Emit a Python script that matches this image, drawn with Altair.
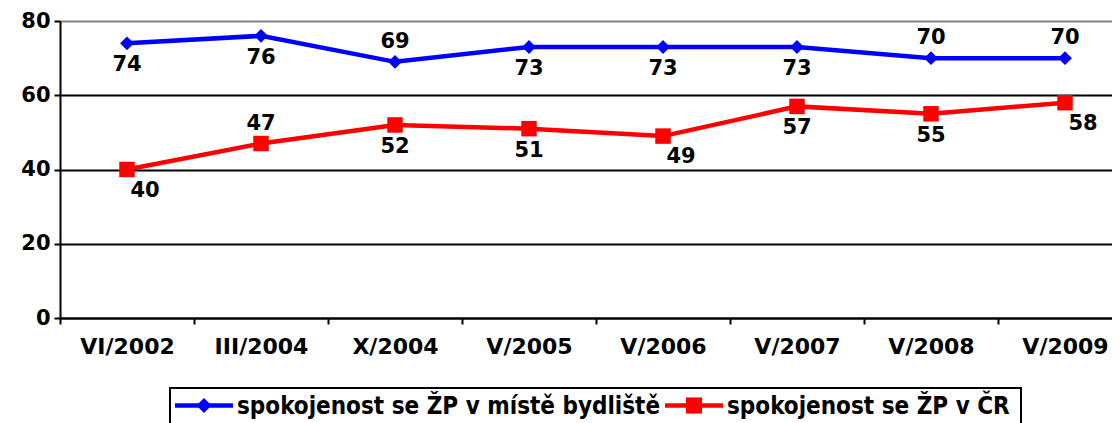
import altair as alt
import pandas as pd

periods = ["VI/2002", "III/2004", "X/2004", "V/2005", "V/2006", "V/2007", "V/2008", "V/2009"]
series_names = ["spokojenost se ŽP v místě bydliště", "spokojenost se ŽP v ČR"]
local_values = [74, 76, 69, 73, 73, 73, 70, 70]
national_values = [40, 47, 52, 51, 49, 57, 55, 58]
local_label_pos = ["below", "below", "above", "below", "below", "below", "above", "above"]
national_label_pos = ["below-right", "above", "below", "below", "below-right", "below", "below", "below-right"]
colors = ["#0000FF", "#FF0000"]
shapes = ["diamond", "square"]
y_ticks = [0, 20, 40, 60, 80]

rows = []
for name, vals, poss in [(series_names[0], local_values, local_label_pos),
                         (series_names[1], national_values, national_label_pos)]:
    for p, v, lp in zip(periods, vals, poss):
        rows.append({"period": p, "series": name, "value": v, "pos": lp})
df = pd.DataFrame(rows)
legend_df = pd.DataFrame({"series": series_names, "color": colors, "shape": shapes})

FONT = "DejaVu Sans"
LEGEND_FONT = "DejaVu Sans Condensed"

x_enc = alt.X(
    "period:N", sort=periods,
    scale=alt.Scale(range=[0, 1072], paddingInner=0, paddingOuter=0),
    axis=alt.Axis(title=None, labelAngle=0, tickBand="extent", labelFont=FONT,
                  labelFontSize=22, labelFontWeight="bold", labelColor="black",
                  labelPadding=12, tickSize=6, tickColor="black", tickWidth=2,
                  domainColor="black", domainWidth=2, grid=False),
)
y_enc = alt.Y(
    "value:Q",
    scale=alt.Scale(domain=[0, 80], nice=False, zero=True),
    axis=alt.Axis(title=None, values=y_ticks, labelFont=FONT, labelFontSize=21,
                  labelFontWeight="bold", labelColor="black", labelPadding=4,
                  tickSize=6, tickColor="black", tickWidth=2,
                  domainColor="black", domainWidth=2, gridWidth=2,
                  gridColor={"condition": {"test": "datum.value == 80", "value": "#808080"},
                             "value": "black"}),
)
color_scale = alt.Scale(domain=series_names, range=colors)

base = alt.Chart(df)

lines = base.mark_line(strokeWidth=4.5).encode(
    x=x_enc, y=y_enc,
    color=alt.Color("series:N", scale=color_scale, legend=None),
    detail="series:N",
)

points = base.mark_point(filled=True, opacity=1).encode(
    x=x_enc, y=y_enc,
    color=alt.Color("series:N", scale=color_scale, legend=None),
    shape=alt.Shape("series:N", scale=alt.Scale(domain=series_names, range=shapes), legend=None),
    size=alt.Size("series:N", scale=alt.Scale(domain=series_names, range=[190, 240]), legend=None),
)

def labels(pos, dx, dy):
    return base.transform_filter(alt.datum.pos == pos).mark_text(
        font=FONT, fontSize=21, fontWeight="bold", color="black",
        dx=dx, dy=dy, baseline="middle", align="center",
    ).encode(x=x_enc, y=y_enc, text="value:Q")

# ---- legend drawn as its own small layer set (pixel layout of the legend box) ----
leg = alt.Chart(legend_df)
LEG_Y = 384.5
legend_box = leg.transform_filter(alt.datum.series == series_names[0]).mark_rect(
    fill="white", stroke="black", strokeWidth=2
).encode(x=alt.value(110), x2=alt.value(961), y=alt.value(367), y2=alt.value(430))

def legend_entry(name, x0, size):
    sub = leg.transform_filter(alt.datum.series == name)
    rule = sub.mark_rule(strokeWidth=4.5).encode(
        x=alt.value(x0), x2=alt.value(x0 + 58), y=alt.value(LEG_Y),
        color=alt.Color("color:N", scale=None))
    mark = sub.mark_point(filled=True, opacity=1, size=size).encode(
        x=alt.value(x0 + 29), y=alt.value(LEG_Y),
        color=alt.Color("color:N", scale=None),
        shape=alt.Shape("shape:N", scale=None))
    text = sub.mark_text(
        font=LEGEND_FONT, fontSize=24, fontWeight="bold", color="black",
        align="left", baseline="middle", dy=1,
    ).encode(x=alt.value(x0 + 62), y=alt.value(LEG_Y), text="series:N")
    return [rule, mark, text]

legend_layers = [legend_box] + legend_entry(series_names[0], 115, 230) + legend_entry(series_names[1], 605, 260)

chart = alt.layer(
    lines, points,
    labels("above", 0, -20),
    labels("below", 0, 22),
    labels("below-right", 18, 21),
    *legend_layers,
).properties(
    width=1052, height=297,
    padding={"left": 52, "top": 13, "right": 0, "bottom": 105},
    autosize=alt.AutoSizeParams(type="none"),
    background="white",
).configure_view(stroke=None)

chart.save("out.html", embed_options={"renderer": "svg", "actions": False})
